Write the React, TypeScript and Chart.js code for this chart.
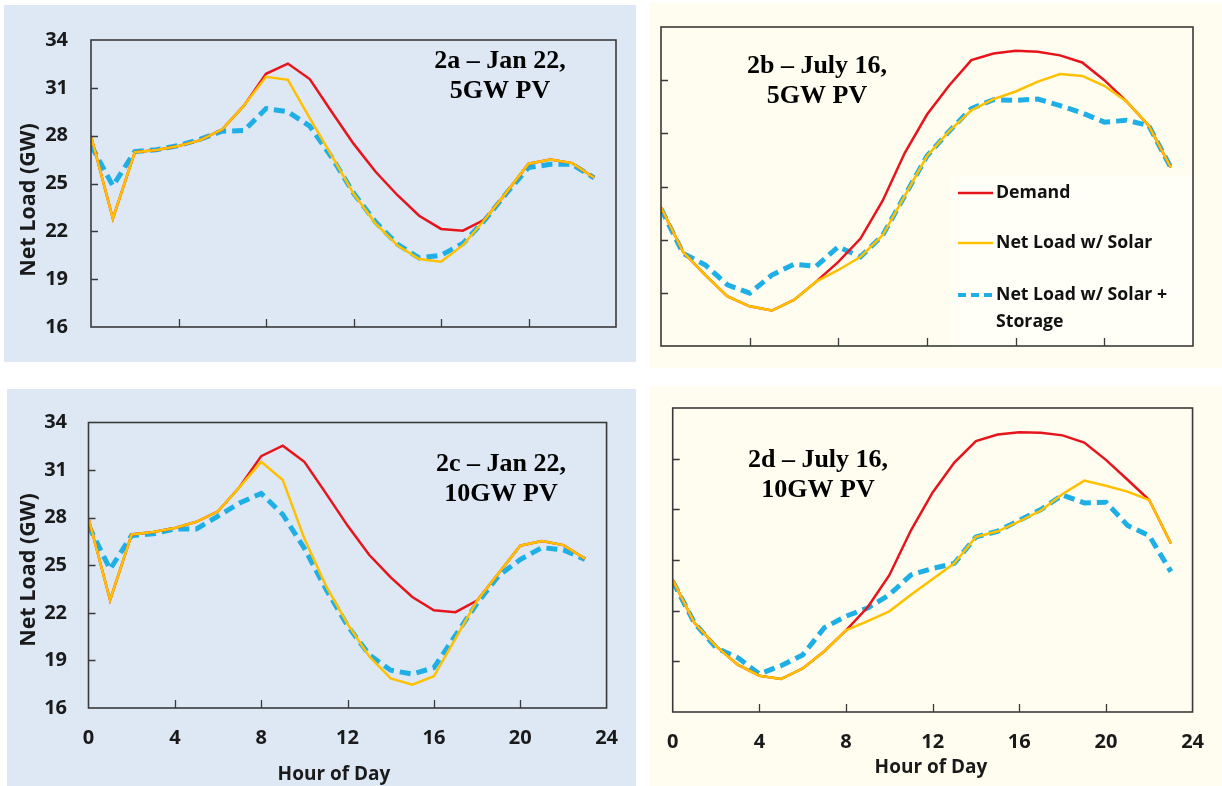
import React, { useEffect, useRef } from 'react';
import { Chart, registerables } from 'chart.js';

Chart.register(...registerables);

// ---------------- data ----------------
const HOURS = [0, 1, 2, 3, 4, 5, 6, 7, 8, 9, 10, 11, 12, 13, 14, 15, 16, 17, 18, 19, 20, 21, 22, 23];
const X_TICKS = [0, 4, 8, 12, 16, 20, 24];
const Y_TICKS = [16, 19, 22, 25, 28, 31, 34];

const LABEL_DEMAND = 'Demand';
const LABEL_SOLAR = 'Net Load w/ Solar';
const LABEL_STORAGE = 'Net Load w/ Solar + Storage';
const LEGEND_STORAGE_LINES = ['Net Load w/ Solar +', 'Storage'];

const Y_TITLE = 'Net Load (GW)';
const X_TITLE = 'Hour of Day';

// 2a – Jan 22, 5GW PV
const demandA = [27.98, 22.8, 26.96, 27.1, 27.35, 27.72, 28.4, 29.9, 31.88, 32.52, 31.55, 29.5, 27.5, 25.75, 24.28, 22.98, 22.15, 22.04, 22.74, 24.46, 26.24, 26.5, 26.28, 25.36];
const solarA = [27.98, 22.8, 26.96, 27.1, 27.35, 27.72, 28.4, 29.9, 31.69, 31.5, 29.1, 26.75, 24.37, 22.5, 21.13, 20.26, 20.1, 21.13, 22.74, 24.46, 26.24, 26.5, 26.28, 25.36];
const storageA = [27.4, 24.85, 27.0, 27.12, 27.38, 27.78, 28.28, 28.32, 29.7, 29.5, 28.6, 26.65, 24.4, 22.6, 21.2, 20.33, 20.5, 21.24, 22.7, 24.4, 26.0, 26.2, 26.2, 25.35];

// 2b – July 16, 5GW PV
const demandB = [23.83, 21.3, 20.0, 18.8, 18.24, 18.0, 18.6, 19.63, 20.75, 22.06, 24.2, 26.9, 29.06, 30.7, 32.13, 32.5, 32.66, 32.6, 32.4, 32.0, 31.0, 29.8, 28.44, 26.07];
const solarB = [23.83, 21.3, 20.0, 18.8, 18.24, 18.0, 18.6, 19.63, 20.29, 21.03, 22.25, 24.49, 26.72, 28.12, 29.3, 29.93, 30.36, 30.92, 31.35, 31.24, 30.68, 29.8, 28.44, 26.07];
const storageB = [23.74, 21.22, 20.57, 19.45, 18.98, 20.0, 20.62, 20.5, 21.6, 21.03, 22.25, 24.49, 26.72, 28.12, 29.4, 29.9, 29.86, 29.93, 29.56, 29.15, 28.63, 28.74, 28.44, 26.07];

// 2c – Jan 22, 10GW PV
const demandC = [27.96, 22.8, 26.94, 27.1, 27.35, 27.74, 28.4, 29.93, 31.88, 32.54, 31.52, 29.53, 27.5, 25.66, 24.24, 23.0, 22.16, 22.04, 22.77, 24.5, 26.23, 26.52, 26.27, 25.42];
const solarC = [27.96, 22.8, 26.94, 27.1, 27.35, 27.74, 28.4, 29.93, 31.52, 30.38, 26.68, 23.7, 21.3, 19.26, 17.87, 17.47, 18.0, 20.37, 22.77, 24.5, 26.23, 26.52, 26.27, 25.42];
const storageC = [27.5, 24.75, 26.88, 26.98, 27.29, 27.29, 28.1, 28.92, 29.53, 28.2, 26.07, 23.5, 21.19, 19.36, 18.38, 18.14, 18.54, 20.58, 22.6, 24.34, 25.36, 26.11, 25.97, 25.36];

// 2d – July 16, 10GW PV
const demandD = [23.82, 21.28, 19.9, 18.8, 18.15, 17.95, 18.58, 19.6, 20.83, 22.2, 24.1, 26.76, 29.0, 30.77, 32.04, 32.43, 32.57, 32.53, 32.38, 31.95, 30.93, 29.75, 28.55, 25.98];
const solarD = [23.82, 21.28, 19.9, 18.8, 18.15, 17.95, 18.58, 19.6, 20.83, 21.38, 21.96, 22.94, 23.88, 24.8, 26.37, 26.7, 27.29, 27.93, 28.91, 29.7, 29.4, 29.05, 28.55, 25.98];
const storageD = [23.73, 21.28, 19.8, 19.22, 18.25, 18.74, 19.38, 20.99, 21.67, 22.16, 22.94, 24.12, 24.5, 24.8, 26.37, 26.7, 27.35, 27.99, 28.85, 28.38, 28.42, 27.05, 26.43, 24.31];

// ---------------- styles ----------------
const RED = '#e8141c';
const YELLOW = '#ffc000';
const BLUE = '#1eafe6';
const BLUE_BG = '#dde8f4';
const CREAM_BG = '#fefdf0';
const SANS = '"Open Sans", "Noto Sans", sans-serif';
const SERIF = '"Liberation Serif", "Times New Roman", serif';
const TICK_FONT = { family: SANS, size: 20, weight: 'bold' as const };

type Box = { l: number; t: number; w: number; h: number };
type Plot = { l: number; t: number; r: number; b: number };
type Spec = {
  box: Box;
  plot: Plot;
  bg: string;
  demand: number[];
  solar: number[];
  storage: number[];
  yLabels: boolean;
  xLabels: boolean;
  yLabelRight?: number;
  xLabelY?: number;
  title: string[];
  titleX: number;
  titleY: number[];
  yTitle?: { x: number; y: number };
  xTitle?: { x: number; y: number };
  legend?: boolean;
};

const SPECS: Spec[] = [
  {
    box: { l: 4, t: 5, w: 632, h: 357 },
    plot: { l: 91, t: 27, r: 616, b: 351 },
    bg: BLUE_BG,
    demand: demandA, solar: solarA, storage: storageA,
    yLabels: true, xLabels: false, yLabelRight: 68,
    title: ['2a – Jan 22,', '5GW PV'], titleX: 500, titleY: [68, 98],
    yTitle: { x: 29, y: 200 },
  },
  {
    box: { l: 649, t: 3, w: 573, h: 365 },
    plot: { l: 661, t: 27, r: 1193, b: 348 },
    bg: CREAM_BG,
    demand: demandB, solar: solarB, storage: storageB,
    yLabels: false, xLabels: false,
    title: ['2b – July 16,', '5GW PV'], titleX: 817, titleY: [73, 103],
    legend: true,
  },
  {
    box: { l: 7, t: 389, w: 629, h: 397 },
    plot: { l: 88.5, t: 414, r: 617, b: 708 },
    bg: BLUE_BG,
    demand: demandC, solar: solarC, storage: storageC,
    yLabels: true, xLabels: true, yLabelRight: 67, xLabelY: 738,
    title: ['2c – Jan 22,', '10GW PV'], titleX: 501, titleY: [471, 501],
    yTitle: { x: 29, y: 570 },
    xTitle: { x: 334, y: 775 },
  },
  {
    box: { l: 649, t: 386, w: 573, h: 400 },
    plot: { l: 665, t: 405, r: 1193, b: 712 },
    bg: CREAM_BG,
    demand: demandD, solar: solarD, storage: storageD,
    yLabels: false, xLabels: true, xLabelY: 742,
    title: ['2d – July 16,', '10GW PV'], titleX: 818, titleY: [467, 497],
    xTitle: { x: 931, y: 768 },
  },
];

// frame + inner tick marks
const framePlugin = {
  id: 'frame',
  afterDatasetsDraw(chart: any) {
    const { ctx, chartArea: a, scales } = chart;
    const x = scales.x;
    const y = scales.y;
    ctx.save();
    ctx.strokeStyle = '#3a3a3a';
    ctx.lineWidth = 1.6;
    ctx.strokeRect(a.left, a.top, a.right - a.left, a.bottom - a.top);
    ctx.beginPath();
    x.ticks.forEach((t: any) => {
      if (t.value > x.min && t.value < x.max) {
        const px = Math.round(x.getPixelForValue(t.value)) + 0.5;
        ctx.moveTo(px, a.bottom);
        ctx.lineTo(px, a.bottom - 8);
      }
    });
    y.ticks.forEach((t: any) => {
      if (t.value > y.min && t.value < y.max) {
        const py = Math.round(y.getPixelForValue(t.value)) + 0.5;
        ctx.moveTo(a.left, py);
        ctx.lineTo(a.left + 7, py);
      }
    });
    ctx.lineWidth = 1.3;
    ctx.stroke();
    ctx.restore();
  },
};

function makeAnnotPlugin(spec: Spec) {
  const ox = spec.box.l;
  const oy = spec.box.t;
  return {
    id: 'annot',
    beforeDatasetsDraw(chart: any) {
      if (!spec.legend) return;
      const { ctx, chartArea: a } = chart;
      ctx.save();
      ctx.fillStyle = '#fffff8';
      ctx.fillRect(951 - ox, 176 - oy, a.right - (951 - ox) - 1, a.bottom - (176 - oy) - 1);
      ctx.restore();
    },
    afterDraw(chart: any) {
      const { ctx } = chart;
      ctx.save();
      // panel title
      ctx.fillStyle = '#000';
      ctx.font = `bold 26px ${SERIF}`;
      ctx.textAlign = 'center';
      ctx.textBaseline = 'alphabetic';
      spec.title.forEach((line, i) => ctx.fillText(line, spec.titleX - ox, spec.titleY[i] - oy));
      // axis titles
      ctx.fillStyle = '#1a1a1a';
      ctx.textBaseline = 'middle';
      if (spec.xTitle) {
        ctx.font = `bold 19px ${SANS}`;
        ctx.fillText(X_TITLE, spec.xTitle.x - ox, spec.xTitle.y - oy);
      }
      if (spec.yTitle) {
        ctx.font = `bold 21.5px ${SANS}`;
        ctx.save();
        ctx.translate(spec.yTitle.x - ox, spec.yTitle.y - oy);
        ctx.rotate(-Math.PI / 2);
        ctx.fillText(Y_TITLE, 0, 0);
        ctx.restore();
      }
      // legend
      if (spec.legend) {
        const ds = chart.data.datasets;
        const rows = [
          { d: ds[0], y: 193, lines: [ds[0].label] },
          { d: ds[1], y: 243, lines: [ds[1].label] },
          { d: ds[2], y: 295, lines: LEGEND_STORAGE_LINES },
        ];
        ctx.textAlign = 'left';
        ctx.font = `bold 17.7px ${SANS}`;
        rows.forEach((r) => {
          ctx.save();
          ctx.strokeStyle = r.d.borderColor;
          ctx.lineWidth = r.d.borderDash ? 4 : 2.5;
          ctx.setLineDash(r.d.borderDash ? [8, 5] : []);
          ctx.beginPath();
          ctx.moveTo(958 - ox, r.y - oy);
          ctx.lineTo(993 - ox, r.y - oy);
          ctx.stroke();
          ctx.restore();
          ctx.fillStyle = '#111';
          r.lines.forEach((ln: string, i: number) => ctx.fillText(ln, 996 - ox, r.y - oy + i * 26.5));
        });
      }
      ctx.restore();
    },
  };
}

function makeConfig(spec: Spec): any {
  const { box, plot } = spec;
  const yW = plot.l - box.l;
  const xH = box.t + box.h - plot.b;
  const yPad = spec.yLabelRight ? plot.l - spec.yLabelRight : 10;
  const xPad = spec.xLabelY ? spec.xLabelY - plot.b - TICK_FONT.size * 0.6 : 10;
  return {
    type: 'line',
    data: {
      labels: HOURS,
      datasets: [
        { label: LABEL_DEMAND, data: spec.demand, borderColor: RED, backgroundColor: RED, borderWidth: 2.5, pointRadius: 0, tension: 0, order: 1 },
        { label: LABEL_SOLAR, data: spec.solar, borderColor: YELLOW, backgroundColor: YELLOW, borderWidth: 2.5, pointRadius: 0, tension: 0, order: 0 },
        { label: LABEL_STORAGE, data: spec.storage, borderColor: BLUE, backgroundColor: BLUE, borderWidth: 5, borderDash: [11, 6], pointRadius: 0, tension: 0, order: 2 },
      ],
    },
    options: {
      responsive: false,
      animation: false,
      devicePixelRatio: 1,
      layout: { padding: { left: 0, top: plot.t - box.t, right: box.l + box.w - plot.r, bottom: 0 } },
      plugins: { legend: { display: false }, tooltip: { enabled: false } },
      scales: {
        x: {
          type: 'linear',
          min: 0,
          max: 24,
          afterBuildTicks: (s: any) => { s.ticks = X_TICKS.map((v) => ({ value: v })); },
          ticks: {
            font: TICK_FONT,
            color: '#1a1a1a',
            padding: xPad,
            maxRotation: 0,
            autoSkip: false,
            callback: (v: any) => (spec.xLabels ? String(v) : ''),
          },
          grid: { display: false, drawTicks: false },
          border: { display: false },
          afterFit: (s: any) => { s.height = xH; },
        },
        y: {
          type: 'linear',
          min: 16,
          max: 34,
          afterBuildTicks: (s: any) => { s.ticks = Y_TICKS.map((v) => ({ value: v })); },
          ticks: {
            font: TICK_FONT,
            color: '#1a1a1a',
            padding: yPad,
            autoSkip: false,
            callback: (v: any) => (spec.yLabels ? String(v) : ''),
          },
          grid: { display: false, drawTicks: false },
          border: { display: false },
          afterFit: (s: any) => { s.width = yW; },
        },
      },
    },
    plugins: [framePlugin, makeAnnotPlugin(spec)],
  };
}

function Panel({ spec }: { spec: Spec }) {
  const ref = useRef<HTMLCanvasElement>(null);
  useEffect(() => {
    const chart = new Chart(ref.current as HTMLCanvasElement, makeConfig(spec));
    return () => chart.destroy();
  }, [spec]);
  const { box } = spec;
  return (
    <canvas
      ref={ref}
      width={box.w}
      height={box.h}
      style={{ position: 'absolute', left: box.l, top: box.t, width: box.w, height: box.h, background: spec.bg, display: 'block' }}
    />
  );
}

export default function App() {
  return (
    <div style={{ position: 'absolute', left: 0, top: 0, width: 1222, height: 786, background: '#ffffff', overflow: 'hidden' }}>
      {SPECS.map((s, i) => (
        <Panel key={i} spec={s} />
      ))}
    </div>
  );
}
